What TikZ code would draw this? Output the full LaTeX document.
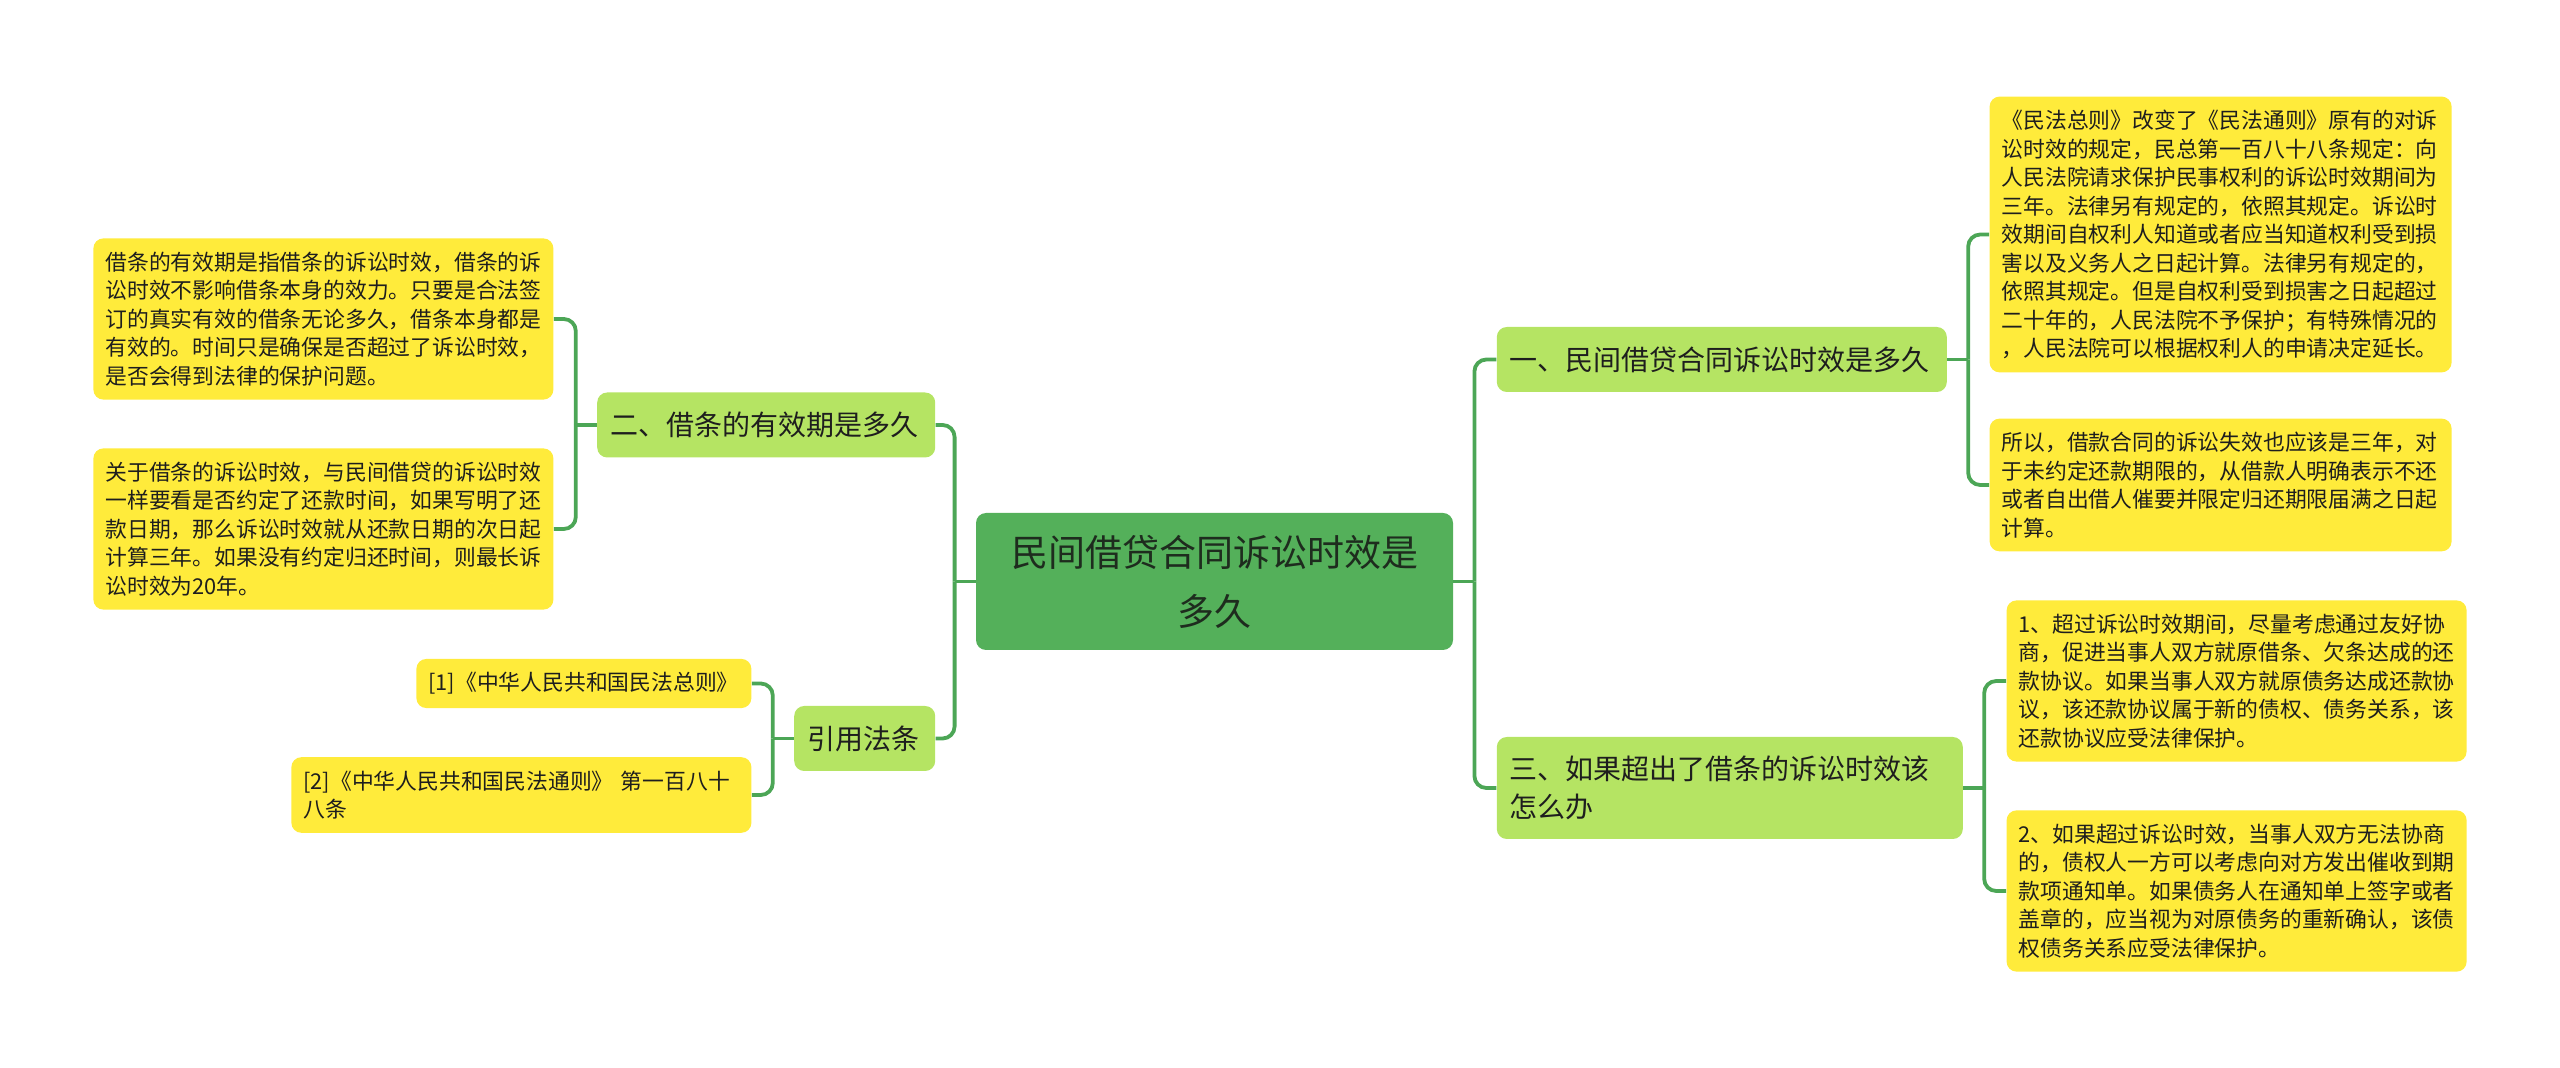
\documentclass[tikz,border=0pt]{standalone}
\usepackage{fontspec}
\newfontfamily\cjk{Noto Sans CJK SC}
\usetikzlibrary{positioning}
\definecolor{rootgreen}{RGB}{84,176,90}
\definecolor{branchgreen}{RGB}{181,228,99}
\definecolor{leafyellow}{RGB}{255,235,59}
\definecolor{linkgreen}{RGB}{76,166,86}
\definecolor{roottext}{RGB}{30,44,30}
\definecolor{inktext}{RGB}{30,30,30}

\begin{document}
\begin{tikzpicture}[x=0.5pt, y=-0.5pt,
  every node/.style={inner sep=0pt},
  rootbox/.style={fill=rootgreen, text=roottext, rounded corners=5pt, align=center, text width=222.5pt, inner xsep=8pt, minimum height=68.5pt, font=\cjk\fontsize{18.5}{29.5}\selectfont},
  branchbox/.style={fill=branchgreen, text=inktext, rounded corners=5pt, align=left, inner xsep=6.5pt, inner ysep=7pt, minimum height=32.5pt, font=\cjk\fontsize{14}{19}\selectfont},
  leafbox/.style={fill=leafyellow, text=inktext, rounded corners=5pt, align=left, inner xsep=6pt, inner ysep=6.75pt, text width=218pt, font=\cjk\fontsize{10.9}{14.25}\selectfont},
  link/.style={draw=linkgreen, line width=1.9pt, rounded corners=6pt}]
  \useasboundingbox (0,0) rectangle (2560,1068);

  \node[rootbox] (root) at (1214.5,581.5) {民间借贷合同诉讼时效是\\多久};

  \node[branchbox, text width=212pt, right=21.5pt of root, yshift=111pt] (limit) {一、民间借贷合同诉讼时效是多久};
  \node[branchbox, text width=220pt, minimum height=51pt, right=21.5pt of root, yshift=-103.25pt] (overdue) {三、如果超出了借条的诉讼时效该\\怎么办};
  \node[branchbox, text width=156pt, left=20pt of root, yshift=78.25pt] (validity) {二、借条的有效期是多久};
  \node[branchbox, text width=57.5pt, left=20pt of root, yshift=-78.5pt] (laws) {引用法条};

  \node[leafbox, text width=219pt, right=21pt of limit, yshift=62.5pt] (limitrule) {《民法总则》改变了《民法通则》原有的对诉\\讼时效的规定，民总第一百八十八条规定：向\\人民法院请求保护民事权利的诉讼时效期间为\\三年。法律另有规定的，依照其规定。诉讼时\\效期间自权利人知道或者应当知道权利受到损\\害以及义务人之日起计算。法律另有规定的，\\依照其规定。但是自权利受到损害之日起超过\\二十年的，人民法院不予保护；有特殊情况的\\，人民法院可以根据权利人的申请决定延长。};
  \node[leafbox, text width=219pt, right=21pt of limit, yshift=-62.75pt] (limitloan) {所以，借款合同的诉讼失效也应该是三年，对\\于未约定还款期限的，从借款人明确表示不还\\或者自出借人催要并限定归还期限届满之日起\\计算。};
  \node[leafbox, right=21.5pt of overdue, yshift=53.5pt] (overdueagree) {1、超过诉讼时效期间，尽量考虑通过友好协\\商，促进当事人双方就原借条、欠条达成的还\\款协议。如果当事人双方就原债务达成还款协\\议，该还款协议属于新的债权、债务关系，该\\还款协议应受法律保护。};
  \node[leafbox, right=21.5pt of overdue, yshift=-51.5pt] (overduenotice) {2、如果超过诉讼时效，当事人双方无法协商\\的，债权人一方可以考虑向对方发出催收到期\\款项通知单。如果债务人在通知单上签字或者\\盖章的，应当视为对原债务的重新确认，该债\\权债务关系应受法律保护。};
  \node[leafbox, left=21.5pt of validity, yshift=53pt] (validitymeaning) {借条的有效期是指借条的诉讼时效，借条的诉\\讼时效不影响借条本身的效力。只要是合法签\\订的真实有效的借条无论多久，借条本身都是\\有效的。时间只是确保是否超过了诉讼时效，\\是否会得到法律的保护问题。};
  \node[leafbox, left=21.5pt of validity, yshift=-52pt] (validitycount) {关于借条的诉讼时效，与民间借贷的诉讼时效\\一样要看是否约定了还款时间，如果写明了还\\款日期，那么诉讼时效就从还款日期的次日起\\计算三年。如果没有约定归还时间，则最长诉\\讼时效为20年。};
  \node[leafbox, text width=155.5pt, left=21pt of laws, yshift=27.5pt] (lawgeneral) {[1]《中华人民共和国民法总则》};
  \node[leafbox, left=21pt of laws, yshift=-28.25pt] (lawcivil) {[2]《中华人民共和国民法通则》~第一百八十\\八条};

  \draw[link] (root.east) -- ++(10.5pt,0) coordinate (righthub);
  \draw[link] (righthub) |- (limit.west);
  \draw[link] (righthub) |- (overdue.west);
  \draw[link] (root.west) -- ++(-10.5pt,0) coordinate (lefthub);
  \draw[link] (lefthub) |- (validity.east);
  \draw[link] (lefthub) |- (laws.east);

  \draw[link] (limit.east) -- ++(10.5pt,0) coordinate (limithub);
  \draw[link] (limithub) |- (limitrule.west);
  \draw[link] (limithub) |- (limitloan.west);
  \draw[link] (overdue.east) -- ++(10.5pt,0) coordinate (overduehub);
  \draw[link] (overduehub) |- (overdueagree.west);
  \draw[link] (overduehub) |- (overduenotice.west);
  \draw[link] (validity.west) -- ++(-10.5pt,0) coordinate (validityhub);
  \draw[link] (validityhub) |- (validitymeaning.east);
  \draw[link] (validityhub) |- (validitycount.east);
  \draw[link] (laws.west) -- ++(-10.5pt,0) coordinate (lawshub);
  \draw[link] (lawshub) |- (lawgeneral.east);
  \draw[link] (lawshub) |- (lawcivil.east);
\end{tikzpicture}
\end{document}
